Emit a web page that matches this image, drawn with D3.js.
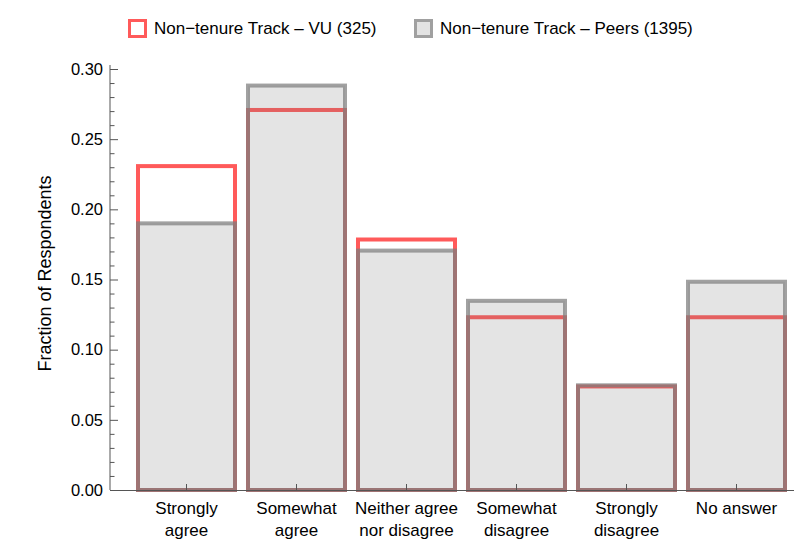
<!DOCTYPE html>
<html>
<head>
<meta charset="utf-8">
<script src="https://cdn.jsdelivr.net/npm/d3@7"></script>
<style>
  body { margin: 0; background: #fff; }
  text { font-family: "Liberation Sans", Arial, sans-serif; fill: #000; }
  .tick-label { font-size: 16.5px; }
  .x-label { font-size: 17px; }
  .y-title { font-size: 18px; }
  .legend-text { font-size: 17px; }
</style>
</head>
<body>
<div id="chart"></div>
<script>
// answer categories (two-line labels)
const categories = [
    ["Strongly", "agree"],
    ["Somewhat", "agree"],
    ["Neither agree", "nor disagree"],
    ["Somewhat", "disagree"],
    ["Strongly", "disagree"],
    ["No answer"]
];
const vuValues = [0.2308, 0.2708, 0.1785, 0.1231, 0.0738, 0.1231];
const peerValues = [0.190, 0.2882, 0.1706, 0.1348, 0.0746, 0.1484];
const seriesNames = ["Non\u2212tenure Track \u2013 VU (325)", "Non\u2212tenure Track \u2013 Peers (1395)"];
const yTicks = [0, 0.05, 0.10, 0.15, 0.20, 0.25, 0.30];

const width = 798, height = 543;

const svg = d3.select("#chart").append("svg")
    .attr("width", width)
    .attr("height", height);

const keys = categories.map(c => c.join(" "));

const x = d3.scaleBand()
    .domain(keys)
    .range([131.5, 791.5])
    .paddingInner(13 / 110)
    .paddingOuter(6.5 / 110);

const y = d3.scaleLinear()
    .domain([0, 0.30])
    .range([490, 69]);

const axisColor = "#555";

// VU bars (outline only)
svg.selectAll(".vu-bar")
    .data(vuValues)
    .enter().append("rect")
    .attr("class", "vu-bar")
    .attr("x", (d, i) => x(keys[i]))
    .attr("y", d => y(d))
    .attr("width", x.bandwidth())
    .attr("height", d => y(0) - y(d))
    .style("fill", "#fff")
    .style("stroke", "#ff5a5a")
    .style("stroke-width", 4);

// peer bars drawn on top, translucent
svg.selectAll(".peer-bar")
    .data(peerValues)
    .enter().append("rect")
    .attr("class", "peer-bar")
    .attr("x", (d, i) => x(keys[i]))
    .attr("y", d => y(d))
    .attr("width", x.bandwidth())
    .attr("height", d => y(0) - y(d))
    .style("fill", "rgb(120,120,120)")
    .style("fill-opacity", 0.2)
    .style("stroke", "rgb(125,125,125)")
    .style("stroke-opacity", 0.72)
    .style("stroke-width", 4);

// y axis
const yAxisG = svg.append("g").attr("transform", "translate(110,0)");
yAxisG.append("line")
    .attr("x1", 0).attr("x2", 0)
    .attr("y1", y(0)).attr("y2", 65)
    .style("stroke", axisColor);

const minorTicks = d3.range(0, 31).map(i => i / 100).filter(v => !yTicks.some(t => Math.abs(t - v) < 1e-9));
yAxisG.selectAll(".minor")
    .data(minorTicks)
    .enter().append("line")
    .attr("x1", 0).attr("x2", 4.5)
    .attr("y1", d => y(d) + 0.5).attr("y2", d => y(d) + 0.5)
    .style("stroke", axisColor);

yAxisG.selectAll(".major")
    .data(yTicks)
    .enter().append("line")
    .attr("x1", 0).attr("x2", 8)
    .attr("y1", d => y(d) + 0.5).attr("y2", d => y(d) + 0.5)
    .style("stroke", axisColor);

yAxisG.selectAll(".ylab")
    .data(yTicks)
    .enter().append("text")
    .attr("class", "tick-label")
    .attr("x", -7)
    .attr("y", d => y(d))
    .attr("dy", "0.35em")
    .attr("text-anchor", "end")
    .text(d => d3.format(".2f")(d));

svg.append("text")
    .attr("class", "y-title")
    .attr("transform", `translate(51,${(y(0) + y(0.30)) / 2 - 6}) rotate(-90)`)
    .attr("text-anchor", "middle")
    .text("Fraction of Respondents");

// x axis
svg.append("line")
    .attr("x1", 110).attr("x2", 794)
    .attr("y1", y(0) + 0.5).attr("y2", y(0) + 0.5)
    .style("stroke", axisColor);

svg.selectAll(".xtick")
    .data(keys)
    .enter().append("line")
    .attr("x1", d => x(d) + x.bandwidth() / 2)
    .attr("x2", d => x(d) + x.bandwidth() / 2)
    .attr("y1", y(0)).attr("y2", y(0) - 6)
    .style("stroke", axisColor);

const xLabels = svg.selectAll(".xlab")
    .data(categories)
    .enter().append("text")
    .attr("class", "x-label")
    .attr("text-anchor", "middle")
    .attr("x", (d, i) => x(keys[i]) + x.bandwidth() / 2)
    .attr("y", 514);

xLabels.selectAll("tspan")
    .data(d => d)
    .enter().append("tspan")
    .attr("x", function () { return d3.select(this.parentNode).attr("x"); })
    .attr("dy", (d, i) => i === 0 ? 0 : 22)
    .text(d => d);

// legend
const legend = svg.append("g");
const legendX = [128, 414];
const legendY = 28;
legend.append("rect")
    .attr("x", legendX[0] + 1.5).attr("y", legendY - 7.5)
    .attr("width", 16).attr("height", 16)
    .style("fill", "#fff")
    .style("stroke", "#ff5a5a")
    .style("stroke-width", 3);
legend.append("rect")
    .attr("x", legendX[1] + 1.5).attr("y", legendY - 7.5)
    .attr("width", 16).attr("height", 16)
    .style("fill", "#e3e3e3")
    .style("stroke", "#a0a0a0")
    .style("stroke-width", 3);
legend.selectAll(".legtext")
    .data(seriesNames)
    .enter().append("text")
    .attr("class", "legend-text")
    .attr("x", (d, i) => legendX[i] + 26)
    .attr("y", legendY + 0.5)
    .attr("dy", "0.35em")
    .text(d => d);
</script>
</body>
</html>
